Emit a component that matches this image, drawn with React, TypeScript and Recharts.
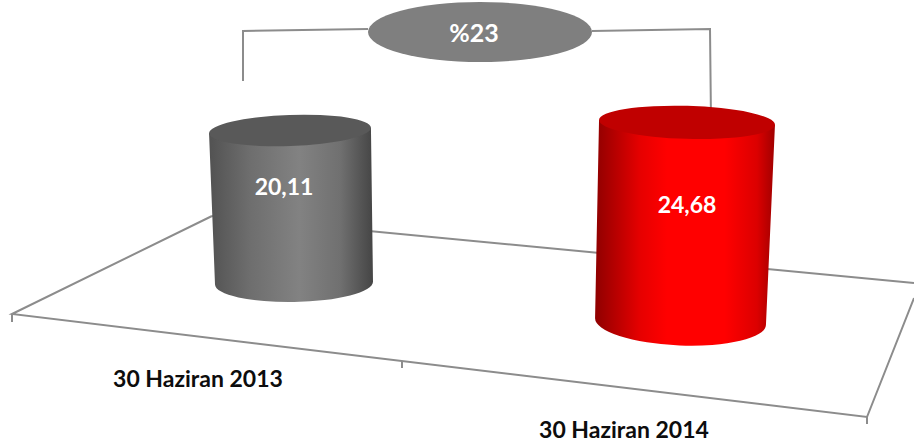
import React from 'react';
import { Bar, BarChart, XAxis, YAxis } from 'recharts';

const categories = ['30 Haziran 2013', '30 Haziran 2014'];
const values = [20.11, 24.68];
const changeLabel = '%23';

const chartData = categories.map((name, i) => ({ name, value: values[i] }));

const FONT = 'Lato, Carlito, sans-serif';
const LINE = '#8c8c8c';

// the picture is a 3D perspective, so every bar gets its own depth settings
const depth = [
  { scale: 1, drop: 0, topW: 81, botW: 79, topDx: -1, botDx: 3, topTilt: -2, botTilt: -1, topRy: 15.5, botRy: 19, labelX: 284, labelY: 186, gradient: 'cylGray', top: '#595959' },
  { scale: 1.064, drop: 38.5, topW: 88, botW: 85.5, topDx: 0, botDx: -6.5, topTilt: 1.6, botTilt: 2.3, topRy: 16.5, botRy: 24, labelX: 687, labelY: 204, gradient: 'cylRed', top: '#c00000' },
];
const tickShift = [
  { dx: -93, y: 378 },
  { dx: -63, y: 429 },
];

const Cylinder = (props: any) => {
  const { x, y, width, height, index, value } = props;
  const d = depth[index];
  const cx = x + width / 2;
  const bottom = y + height + d.drop;
  const top = bottom - height * d.scale;
  const tCx = cx + d.topDx;
  const bCx = cx + d.botDx;
  const tRad = (d.topTilt * Math.PI) / 180;
  const bRad = (d.botTilt * Math.PI) / 180;
  const tl = [tCx - d.topW * Math.cos(tRad), top - d.topW * Math.sin(tRad)];
  const tr = [tCx + d.topW * Math.cos(tRad), top + d.topW * Math.sin(tRad)];
  const bl = [bCx - d.botW * Math.cos(bRad), bottom - d.botW * Math.sin(bRad)];
  const br = [bCx + d.botW * Math.cos(bRad), bottom + d.botW * Math.sin(bRad)];
  const body = `M${tl[0]},${tl[1]} L${bl[0]},${bl[1]} A${d.botW},${d.botRy} ${d.botTilt} 0 0 ${br[0]},${br[1]} L${tr[0]},${tr[1]} Z`;
  return (
    <g>
      <path d={body} fill={`url(#${d.gradient})`} />
      <ellipse cx={tCx} cy={top} rx={d.topW} ry={d.topRy} fill={d.top} transform={`rotate(${d.topTilt} ${tCx} ${top})`} />
      <text x={d.labelX} y={d.labelY} textAnchor="middle" dominantBaseline="central" fill="#fff" fontFamily={FONT} fontWeight={700} fontSize={23}>
        {Number(value).toFixed(2).replace('.', ',')}
      </text>
    </g>
  );
};

const CategoryTick = (props: any) => {
  const { x, index, payload } = props;
  const t = tickShift[index];
  return (
    <text x={x + t.dx} y={t.y} textAnchor="middle" dominantBaseline="central" fill="#0d0d0d" fontFamily={FONT} fontWeight={700} fontSize={23}>
      {payload.value}
    </text>
  );
};

export default function App() {
  return (
    <div style={{ position: 'absolute', left: 0, top: 0, width: 914, height: 448, background: '#fff' }}>
      <BarChart width={914} height={448} data={chartData} margin={{ top: 55.5, right: 29, bottom: 135, left: 93 }}>
        <defs>
          <linearGradient id="cylGray" x1="0" y1="0" x2="1" y2="0">
            <stop offset="0" stopColor="#525252" />
            <stop offset="0.25" stopColor="#6e6e6e" />
            <stop offset="0.55" stopColor="#828282" />
            <stop offset="0.8" stopColor="#707070" />
            <stop offset="1" stopColor="#454545" />
          </linearGradient>
          <linearGradient id="cylRed" x1="0" y1="0" x2="1" y2="0">
            <stop offset="0" stopColor="#8f0000" />
            <stop offset="0.25" stopColor="#e60000" />
            <stop offset="0.4" stopColor="#ff0000" />
            <stop offset="0.72" stopColor="#ff0000" />
            <stop offset="0.9" stopColor="#dc0000" />
            <stop offset="1" stopColor="#a00000" />
          </linearGradient>
        </defs>
        {/* floor of the 3D plot, sits behind the cylinders */}
        <g fill="none" stroke={LINE} strokeWidth={2}>
          <polyline points="212,216 12,314 867,417 914,298" />
          <line x1={212} y1={216} x2={914} y2={283} />
          <line x1={12} y1={314} x2={12} y2={322} />
          <line x1={402} y1={361} x2={402} y2={368} />
          <line x1={867} y1={417} x2={867} y2={424} />
        </g>
        <XAxis dataKey="name" axisLine={false} tickLine={false} tick={<CategoryTick />} interval={0} />
        <YAxis hide domain={[0, 30]} />
        <Bar dataKey="value" barSize={162} shape={<Cylinder />} isAnimationActive={false} />
        {/* change callout over the bars */}
        <g fill="none" stroke={LINE} strokeWidth={2}>
          <polyline points="243,81 243,31 368,29" />
          <polyline points="592,31 710,29 711,120" />
        </g>
        <ellipse cx={480} cy={32} rx={112} ry={30} fill="#7f7f7f" />
        <text x={474} y={32} textAnchor="middle" dominantBaseline="central" fill="#fff" fontFamily={FONT} fontWeight={700} fontSize={25}>
          {changeLabel}
        </text>
      </BarChart>
    </div>
  );
}
